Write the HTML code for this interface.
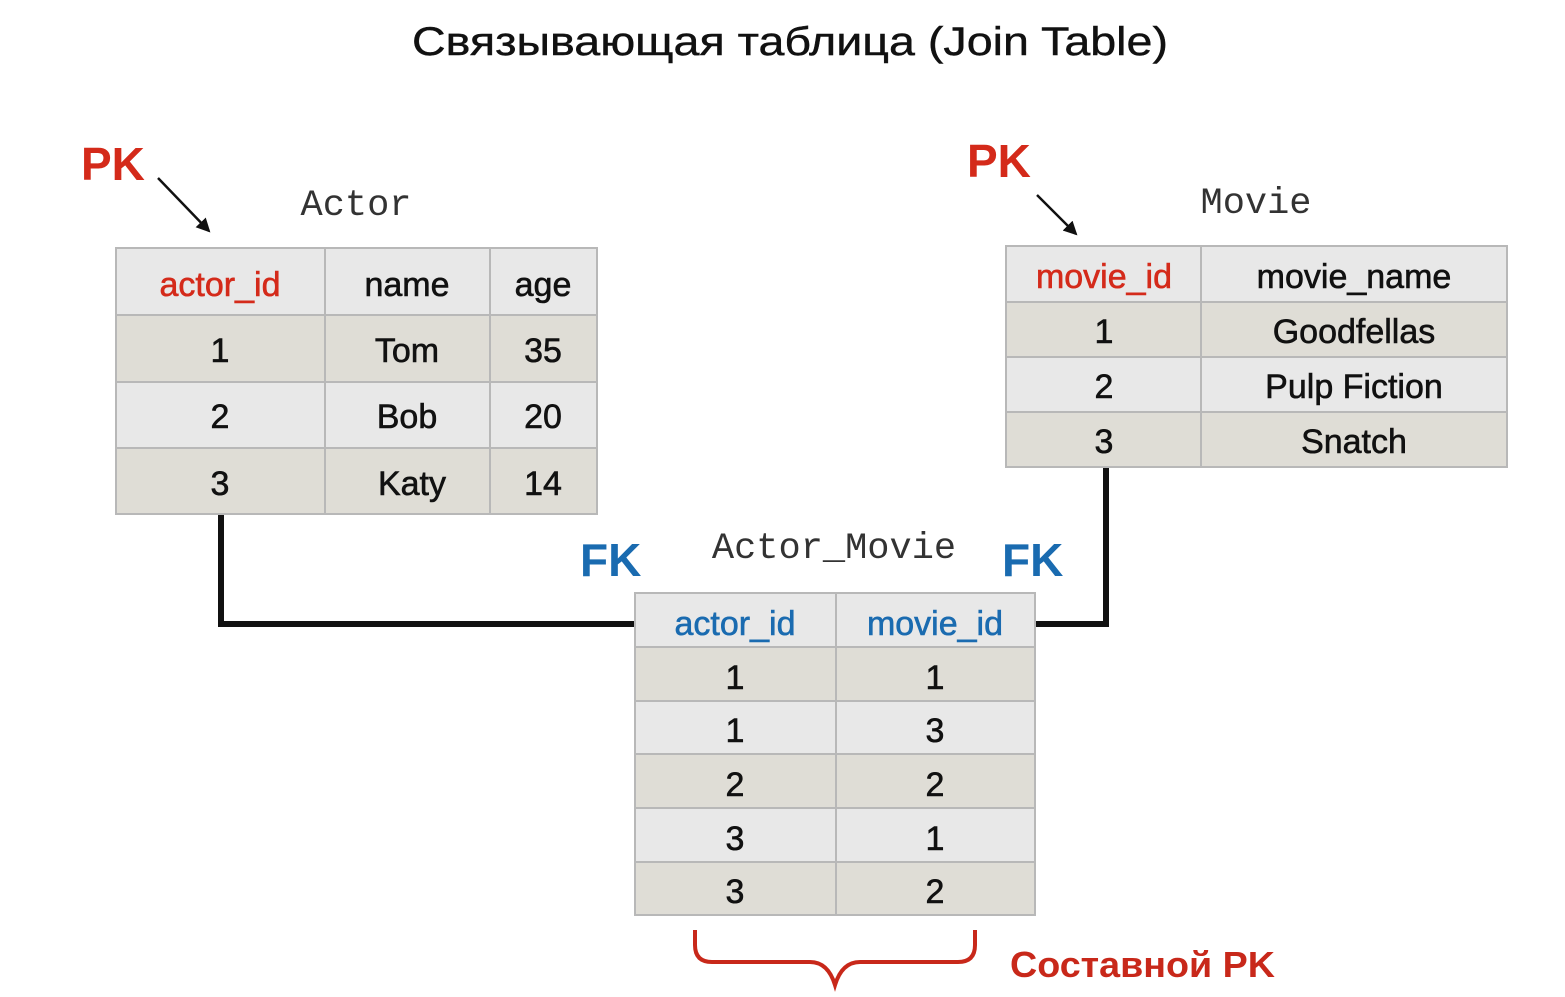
<!DOCTYPE html>
<html><head><meta charset="utf-8"><style>
html,body{margin:0;padding:0;background:#fff;width:1565px;height:997px;overflow:hidden}
svg text{font-family:"Liberation Sans",sans-serif}
</style></head><body>
<svg width="1565" height="997" viewBox="0 0 1565 997" xmlns="http://www.w3.org/2000/svg">
<defs><marker id="ah" markerWidth="14" markerHeight="14" refX="12" refY="7" orient="auto" markerUnits="userSpaceOnUse"><path d="M0,0 L14,7 L0,14 z" fill="#111"/></marker></defs>
<text x="412" y="55" font-size="40" textLength="756" lengthAdjust="spacingAndGlyphs" fill="#111" stroke="#111" stroke-width="0.4">Связывающая таблица (Join Table)</text>

<!-- connectors -->
<path d="M221,514 V624 H640" fill="none" stroke="#111" stroke-width="6"/>
<path d="M1106,467 V624 H1030" fill="none" stroke="#111" stroke-width="6"/>

<g font-size="34" text-anchor="middle" fill="#111" stroke-width="0.6">
<!-- Actor table -->
<rect x="116" y="248" width="481" height="67" fill="#e8e8e8"/>
<rect x="116" y="315" width="481" height="67" fill="#dfddd6"/>
<rect x="116" y="382" width="481" height="66" fill="#e8e8e8"/>
<rect x="116" y="448" width="481" height="66" fill="#dfddd6"/>
<g stroke="#b8b8b8" stroke-width="2" fill="none">
<rect x="116" y="248" width="481" height="266"/>
<path d="M325,248V514M490,248V514M116,315H597M116,382H597M116,448H597"/>
</g>
<g stroke="#111">
<text x="220" y="296" fill="#d42a1a" stroke="#d42a1a">actor_id</text><text x="407" y="296">name</text><text x="543" y="296">age</text>
<text x="220" y="362">1</text><text x="407" y="362">Tom</text><text x="543" y="362">35</text>
<text x="220" y="428">2</text><text x="407" y="428">Bob</text><text x="543" y="428">20</text>
<text x="220" y="495">3</text><text x="412" y="495">Katy</text><text x="543" y="495">14</text>
</g>

<!-- Movie table -->
<rect x="1006" y="246" width="501" height="56" fill="#e8e8e8"/>
<rect x="1006" y="302" width="501" height="55" fill="#dfddd6"/>
<rect x="1006" y="357" width="501" height="55" fill="#e8e8e8"/>
<rect x="1006" y="412" width="501" height="55" fill="#dfddd6"/>
<g stroke="#b8b8b8" stroke-width="2" fill="none">
<rect x="1006" y="246" width="501" height="221"/>
<path d="M1201,246V467M1006,302H1507M1006,357H1507M1006,412H1507"/>
</g>
<g stroke="#111">
<text x="1104" y="288" fill="#d42a1a" stroke="#d42a1a">movie_id</text><text x="1354" y="288">movie_name</text>
<text x="1104" y="343">1</text><text x="1354" y="343">Goodfellas</text>
<text x="1104" y="398">2</text><text x="1354" y="398">Pulp Fiction</text>
<text x="1104" y="453">3</text><text x="1354" y="453">Snatch</text>
</g>

<!-- Join table -->
<rect x="635" y="593" width="400" height="54" fill="#e8e8e8"/>
<rect x="635" y="647" width="400" height="54" fill="#dfddd6"/>
<rect x="635" y="701" width="400" height="53" fill="#e8e8e8"/>
<rect x="635" y="754" width="400" height="54" fill="#dfddd6"/>
<rect x="635" y="808" width="400" height="54" fill="#e8e8e8"/>
<rect x="635" y="862" width="400" height="53" fill="#dfddd6"/>
<g stroke="#b8b8b8" stroke-width="2" fill="none">
<rect x="635" y="593" width="400" height="322"/>
<path d="M836,593V915M635,647H1035M635,701H1035M635,754H1035M635,808H1035M635,862H1035"/>
</g>
<g stroke="#111">
<text x="735" y="635" fill="#1a6bb0" stroke="#1a6bb0">actor_id</text><text x="935" y="635" fill="#1a6bb0" stroke="#1a6bb0">movie_id</text>
<text x="735" y="689">1</text><text x="935" y="689">1</text>
<text x="735" y="742">1</text><text x="935" y="742">3</text>
<text x="735" y="796">2</text><text x="935" y="796">2</text>
<text x="735" y="850">3</text><text x="935" y="850">1</text>
<text x="735" y="903">3</text><text x="935" y="903">2</text>
</g>
</g>

<!-- table names -->
<g font-size="37" fill="#333" text-anchor="middle">
<text x="356" y="215" style="font-family:'Liberation Mono',monospace">Actor</text>
<text x="1256" y="213" style="font-family:'Liberation Mono',monospace">Movie</text>
<text x="834" y="558" style="font-family:'Liberation Mono',monospace">Actor_Movie</text>
</g>

<!-- PK / FK -->
<g font-size="46" font-weight="bold">
<text x="81" y="180" fill="#d42a1a">PK</text>
<text x="967" y="177" fill="#d42a1a">PK</text>
<text x="580" y="576" fill="#1a6bb0">FK</text>
<text x="1002" y="576" fill="#1a6bb0">FK</text>
</g>
<line x1="158" y1="178" x2="209" y2="231" stroke="#111" stroke-width="2.5" marker-end="url(#ah)"/>
<line x1="1037" y1="195" x2="1076" y2="234" stroke="#111" stroke-width="2.5" marker-end="url(#ah)"/>

<!-- brace -->
<path d="M695,930 V945 Q695,962 712,962 H810 Q828,962 835,985 Q842,962 860,962 H958 Q975,962 975,945 V930" fill="none" stroke="#c8281a" stroke-width="4"/>
<text x="1010" y="977" font-size="36" font-weight="bold" fill="#c8281a" textLength="265" lengthAdjust="spacingAndGlyphs">Составной PK</text>
</svg>
</body></html>
